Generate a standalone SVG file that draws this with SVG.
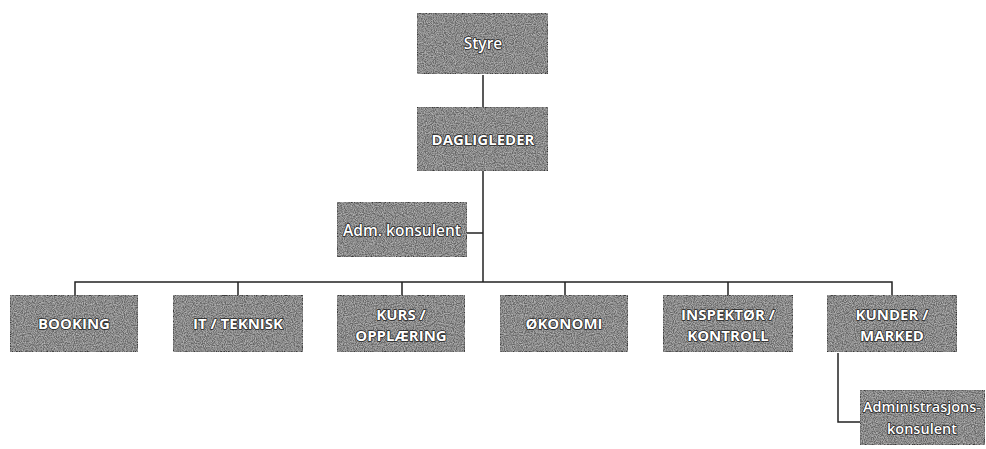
<svg xmlns="http://www.w3.org/2000/svg" width="986" height="449" viewBox="0 0 986 449">
<defs>
<filter id="tex" x="0" y="0" width="100%" height="100%">
<feTurbulence type="fractalNoise" baseFrequency="0.9" numOctaves="2" seed="3" result="n"/>
<feColorMatrix in="n" type="matrix" values="0 0 0 0 0.55  0 0 0 0 0.55  0 0 0 0 0.55  0 0 0 -1.6 1.1" result="g"/>
<feComposite in="g" in2="SourceGraphic" operator="atop"/>
</filter>
</defs>
<style>
.box{fill:#666;stroke:#2a2a2a;stroke-width:1.5;filter:url(#tex)}
.lbl{fill:#fff;font-family:"Open Sans","Noto Sans",sans-serif;text-anchor:middle;stroke:#222;stroke-width:1.6;paint-order:stroke;stroke-linejoin:round}
.b{font-weight:bold;font-size:15px}
.r{font-size:15.5px;font-weight:600}
.s{font-size:14.5px;font-weight:600}
.con{fill:none;stroke:#222;stroke-width:1.5}
</style>
<g id="connectors">
<path class="con" d="M483 75V107"/>
<path class="con" d="M483 171V282"/>
<path class="con" d="M467 233H483"/>
<path class="con" d="M75 295V282H892V295"/>
<path class="con" d="M238 282V295M402 282V295M565 282V295M728 282V295"/>
<path class="con" d="M838 353V422H860"/>
</g>
<g id="styre"><rect class="box" x="417" y="13" width="131" height="61"/><text class="lbl r" x="483" y="49">Styre</text></g>
<g id="dagligleder"><rect class="box" x="417" y="107" width="131" height="64"/><text class="lbl b" x="483" y="145">DAGLIGLEDER</text></g>
<g id="adm"><rect class="box" x="337" y="202" width="130" height="55"/><text class="lbl r" x="402" y="236">Adm. konsulent</text></g>
<g id="booking"><rect class="box" x="10" y="295" width="128" height="57"/><text class="lbl b" x="74" y="329">BOOKING</text></g>
<g id="it"><rect class="box" x="173" y="295" width="130" height="57"/><text class="lbl b" x="238" y="329">IT / TEKNISK</text></g>
<g id="kurs"><rect class="box" x="337" y="295" width="128" height="57"/><text class="lbl b" x="401" y="320">KURS /</text><text class="lbl b" x="401" y="341">OPPLÆRING</text></g>
<g id="okonomi"><rect class="box" x="500" y="295" width="128" height="57"/><text class="lbl b" x="564" y="329">ØKONOMI</text></g>
<g id="inspektor"><rect class="box" x="663" y="295" width="130" height="57"/><text class="lbl b" x="728" y="320">INSPEKTØR /</text><text class="lbl b" x="728" y="341">KONTROLL</text></g>
<g id="kunder"><rect class="box" x="827" y="295" width="130" height="57"/><text class="lbl b" x="892" y="320">KUNDER /</text><text class="lbl b" x="892" y="341">MARKED</text></g>
<g id="admkons"><rect class="box" x="860" y="390" width="125" height="55"/><text class="lbl s" x="922" y="412">Administrasjons-</text><text class="lbl s" x="922" y="434">konsulent</text></g>
</svg>
